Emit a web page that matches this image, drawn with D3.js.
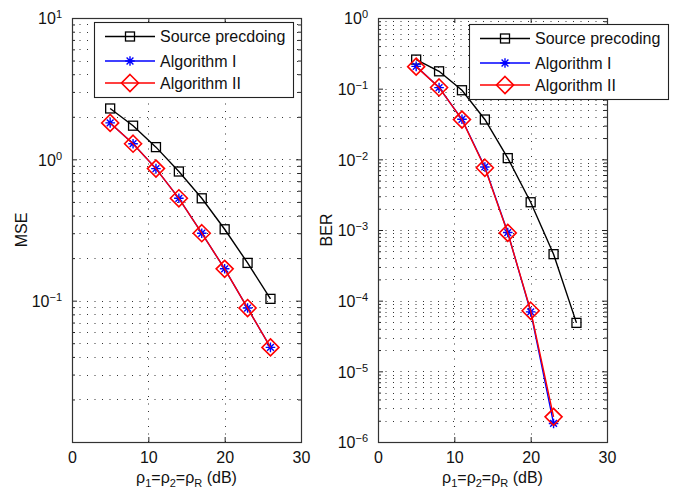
<!DOCTYPE html>
<html>
<head>
<meta charset="utf-8">
<script src="https://cdn.jsdelivr.net/npm/d3@7"></script>
<style>
  html, body { margin: 0; padding: 0; background: #fff; }
  svg { display: block; font-family: "Liberation Sans", Arial, Helvetica, sans-serif; }
  .axis path { display: none; }
  .axis line { stroke: #222; }
  .axis text { fill: #111; font-size: 16px; }
</style>
</head>
<body>
<svg id="chart" width="679" height="490"></svg>
<script>
// x positions (dB)
const snrDb = [5, 8, 11, 14, 17, 20, 23, 26];
const snrDbAlg = [5, 8, 11, 14, 17, 20, 23];

// left panel: MSE
const mseSource = [2.29, 1.73, 1.22, 0.82, 0.53, 0.32, 0.185, 0.103];
const mseAlgI = [1.81, 1.29, 0.86, 0.53, 0.30, 0.168, 0.0887, 0.0467];
const mseAlgII = [1.81, 1.29, 0.86, 0.53, 0.30, 0.168, 0.0887, 0.0467];

// right panel: BER
const berSource = [0.258, 0.176, 0.095, 0.0366, 0.0104, 0.00247, 4.55e-4, 4.85e-5];
const berAlgI = [0.207, 0.1036, 0.0369, 0.0078, 9.2e-4, 6.95e-5, 1.83e-6];
const berAlgII = [0.205, 0.104, 0.0365, 0.0076, 9.1e-4, 7.2e-5, 2.27e-6];

const xTicks = [0, 10, 20, 30];

const panels = [
  {
    left: 72, right: 301, top: 18, bottom: 442,
    yDomain: [1e-2, 10], yLabelTicks: [1e-1, 1, 10], yLabel: "MSE", yLabelX: 27,
    series: [
      { name: "Source precdoing", x: snrDb, y: mseSource, color: "#000", marker: "square" },
      { name: "Algorithm I", x: snrDb, y: mseAlgI, color: "#0000ff", marker: "star" },
      { name: "Algorithm II", x: snrDb, y: mseAlgII, color: "#ff0000", marker: "diamond" },
    ],
    legend: { x: 94, y: 22, w: 199, h: 75 },
  },
  {
    left: 378, right: 607, top: 18, bottom: 442,
    yDomain: [1e-6, 1], yLabelTicks: [1e-6, 1e-5, 1e-4, 1e-3, 1e-2, 1e-1, 1], yLabel: "BER", yLabelX: 332,
    series: [
      { name: "Source precoding", x: snrDb, y: berSource, color: "#000", marker: "square" },
      { name: "Algorithm I", x: snrDbAlg, y: berAlgI, color: "#0000ff", marker: "star" },
      { name: "Algorithm II", x: snrDbAlg, y: berAlgII, color: "#ff0000", marker: "diamond" },
    ],
    legend: { x: 469, y: 24, w: 199, h: 75 },
  },
];

const svg = d3.select("#chart");

function drawMarker(g, type, color) {
  if (type === "square") {
    g.append("rect")
      .attr("x", -4.5).attr("y", -4.5).attr("width", 9).attr("height", 9)
      .attr("fill", "none").attr("stroke", color).attr("stroke-width", 1.3);
  } else if (type === "star") {
    const r = 4.8, a = 3.4;
    g.append("path")
      .attr("d", `M${-r},0L${r},0M0,${-r}L0,${r}M${-a},${-a}L${a},${a}M${-a},${a}L${a},${-a}`)
      .attr("fill", "none").attr("stroke", color).attr("stroke-width", 1.4);
  } else {
    const r = 8.5;
    g.append("path")
      .attr("d", `M0,${-r}L${r},0L0,${r}L${-r},0Z`)
      .attr("fill", "none").attr("stroke", color).attr("stroke-width", 1.6);
  }
}

function expLabel(sel, v) {
  const e = Math.round(Math.log10(v));
  sel.text(null);
  sel.append("tspan").text("10");
  sel.append("tspan").attr("dy", "-0.55em").attr("font-size", "11px")
    .text(e < 0 ? "\u2212" + (-e) : String(e));
}

panels.forEach(p => {
  const x = d3.scaleLinear().domain([0, 30]).range([p.left, p.right]);
  const y = d3.scaleLog().domain(p.yDomain).range([p.bottom, p.top]);
  const w = p.right - p.left, h = p.bottom - p.top;

  // minor + major log positions
  const lo = Math.round(Math.log10(p.yDomain[0])), hi = Math.round(Math.log10(p.yDomain[1]));
  const gridVals = [];
  for (let e = lo; e < hi; e++) {
    for (let m = 1; m <= 9; m++) gridVals.push(m * Math.pow(10, e));
  }
  gridVals.push(Math.pow(10, hi));
  const majorVals = d3.range(lo, hi + 1).map(e => Math.pow(10, e));
  const minorVals = gridVals.filter(v => !majorVals.some(m => Math.abs(m - v) / m < 1e-9));

  const grid = svg.append("g").attr("stroke", "#333").attr("stroke-width", 1)
    .attr("stroke-dasharray", "1,6.5").attr("fill", "none");
  grid.selectAll("line.h").data(gridVals.filter(v => v > p.yDomain[0] * 1.0001 && v < p.yDomain[1] * 0.9999))
    .enter().append("line")
    .attr("x1", p.left).attr("x2", p.right)
    .attr("y1", d => Math.round(y(d)) + 0.5).attr("y2", d => Math.round(y(d)) + 0.5);
  grid.selectAll("line.v").data([10, 20]).enter().append("line")
    .attr("x1", d => Math.round(x(d)) + 0.5).attr("x2", d => Math.round(x(d)) + 0.5)
    .attr("y1", p.bottom).attr("y2", p.top);

  // x axis bottom, ticks inside
  svg.append("g").attr("class", "axis")
    .attr("transform", `translate(0,${p.bottom})`)
    .call(d3.axisBottom(x).tickValues(xTicks).tickSizeInner(-5).tickSizeOuter(0).tickPadding(10).tickFormat(d3.format("d")));
  svg.append("g").attr("class", "axis")
    .attr("transform", `translate(0,${p.top})`)
    .call(d3.axisTop(x).tickValues(xTicks).tickSizeInner(-5).tickSizeOuter(0).tickFormat(""));

  // y axis left: major ticks w/ labels, minor ticks
  const yAx = svg.append("g").attr("class", "axis")
    .attr("transform", `translate(${p.left},0)`)
    .call(d3.axisLeft(y).tickValues(p.yLabelTicks).tickSizeInner(-5).tickSizeOuter(0).tickPadding(10));
  yAx.selectAll(".tick text").attr("dy", "0.36em").each(function(d) { expLabel(d3.select(this), d); });
  svg.append("g").attr("class", "axis")
    .attr("transform", `translate(${p.left},0)`)
    .call(d3.axisLeft(y).tickValues(minorVals).tickSizeInner(-3).tickSizeOuter(0).tickFormat(""));
  svg.append("g").attr("class", "axis")
    .attr("transform", `translate(${p.right},0)`)
    .call(d3.axisRight(y).tickValues(majorVals).tickSizeInner(-5).tickSizeOuter(0).tickFormat(""));
  svg.append("g").attr("class", "axis")
    .attr("transform", `translate(${p.right},0)`)
    .call(d3.axisRight(y).tickValues(minorVals).tickSizeInner(-3).tickSizeOuter(0).tickFormat(""));

  // box
  svg.append("rect")
    .attr("x", p.left + 0.5).attr("y", p.top + 0.5).attr("width", w).attr("height", h)
    .attr("fill", "none").attr("stroke", "#333").attr("stroke-width", 1.2);

  // series
  const line = d3.line().x(d => x(d[0])).y(d => y(d[1]));
  p.series.forEach(s => {
    const pts = s.x.map((xv, i) => [xv, s.y[i]]);
    svg.append("path").datum(pts)
      .attr("d", line).attr("fill", "none").attr("stroke", s.color).attr("stroke-width", 1.4);
    svg.append("g").selectAll("g").data(pts).enter().append("g")
      .attr("transform", d => `translate(${x(d[0])},${y(d[1])})`)
      .each(function() { drawMarker(d3.select(this), s.marker, s.color); });
  });

  // legend
  const L = p.legend;
  const lg = svg.append("g").attr("transform", `translate(${L.x},${L.y})`);
  lg.append("rect").attr("x", 0.5).attr("y", 0.5).attr("width", L.w).attr("height", L.h)
    .attr("fill", "#fff").attr("stroke", "#222").attr("stroke-width", 1.1);
  const rowY = [14.5, 39, 61];
  p.series.forEach((s, i) => {
    const row = lg.append("g").attr("transform", `translate(0,${rowY[i]})`);
    row.append("line").attr("x1", 11).attr("x2", 61).attr("y1", 0).attr("y2", 0)
      .attr("stroke", s.color).attr("stroke-width", 1.4);
    drawMarker(row.append("g").attr("transform", "translate(36,0)"), s.marker, s.color);
    row.append("text").attr("x", 66).attr("y", 0).attr("dy", "0.36em")
      .attr("font-size", "16px").attr("fill", "#111").text(s.name);
  });

  // y label
  svg.append("text")
    .attr("transform", `translate(${p.yLabelX},${(p.top + p.bottom) / 2}) rotate(-90)`)
    .attr("text-anchor", "middle").attr("font-size", "16px").attr("fill", "#111")
    .text(p.yLabel);

  // x label
  const xl = svg.append("text")
    .attr("x", (p.left + p.right) / 2).attr("y", 483)
    .attr("text-anchor", "middle").attr("font-size", "16px").attr("fill", "#111");
  xl.append("tspan").text("\u03c1");
  xl.append("tspan").attr("font-size", "11px").attr("dy", 4).text("1");
  xl.append("tspan").attr("dy", -4).text("=\u03c1");
  xl.append("tspan").attr("font-size", "11px").attr("dy", 4).text("2");
  xl.append("tspan").attr("dy", -4).text("=\u03c1");
  xl.append("tspan").attr("font-size", "11px").attr("dy", 4).text("R");
  xl.append("tspan").attr("dy", -4).text(" (dB)");
});
</script>
</body>
</html>
